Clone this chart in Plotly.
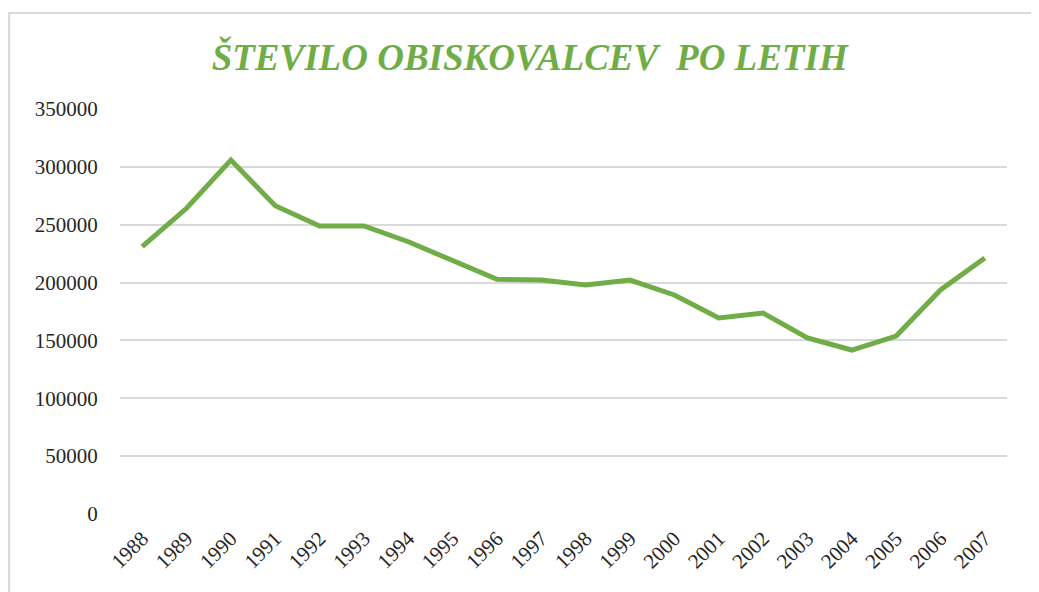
import plotly.graph_objects as go

# Data
years = [str(y) for y in range(1988, 2008)]
visitors = [
    231000, 264200, 305900, 266400, 248900, 248900, 235300, 219500, 202800, 202200,
    197900, 202200, 189300, 169400, 173700, 152100, 141700, 153800, 193600, 221200,
]
y_ticks = [0, 50000, 100000, 150000, 200000, 250000, 300000, 350000]

GREEN = "#70AD47"
GRID = "#d9d9d9"
SERIF = "Liberation Serif, Times New Roman, serif"

fig = go.Figure()
fig.add_trace(go.Scatter(
    x=years,
    y=visitors,
    mode="lines",
    line=dict(color=GREEN, width=5),
    hoverinfo="x+y",
))

# outer chart border (light grey frame, cut off at right/bottom like the reference)
fig.add_shape(
    type="rect", xref="paper", yref="paper",
    x0=-0.125, x1=1.06, y0=-0.3, y1=1.237,
    line=dict(color=GRID, width=2), fillcolor="rgba(0,0,0,0)", layer="below",
)

fig.update_layout(
    # page body has an 8px margin, so the figure is sized to fill the window
    width=1031,
    height=584,
    paper_bgcolor="white",
    plot_bgcolor="white",
    showlegend=False,
    margin=dict(l=112, r=32, t=101, b=78),
    title=dict(
        text="<b><i>ŠTEVILO OBISKOVALCEV  PO LETIH</i></b>",
        font=dict(family=SERIF, size=37, color=GREEN),
        x=0.506, xref="container", xanchor="center",
        y=0.916, yref="container", yanchor="middle",
    ),
    xaxis=dict(
        type="category",
        range=[-0.5, len(years) - 0.5],
        tickangle=-45,
        tickfont=dict(family=SERIF, size=21, color="#262626"),
        showgrid=False,
        showline=False,
        ticks="outside",
        ticklen=3,
        tickcolor="rgba(0,0,0,0)",
        zeroline=False,
        automargin=False,
    ),
    yaxis=dict(
        range=[0, 350000],
        tickvals=y_ticks,
        ticktext=[str(v) for v in y_ticks],
        tickfont=dict(family=SERIF, size=21, color="#262626"),
        showgrid=True,
        gridcolor=GRID,
        gridwidth=2,
        zeroline=False,
        showline=False,
        ticks="outside",
        ticklen=17,
        tickcolor="rgba(0,0,0,0)",
        automargin=False,
    ),
)

fig.write_html("out.html")
